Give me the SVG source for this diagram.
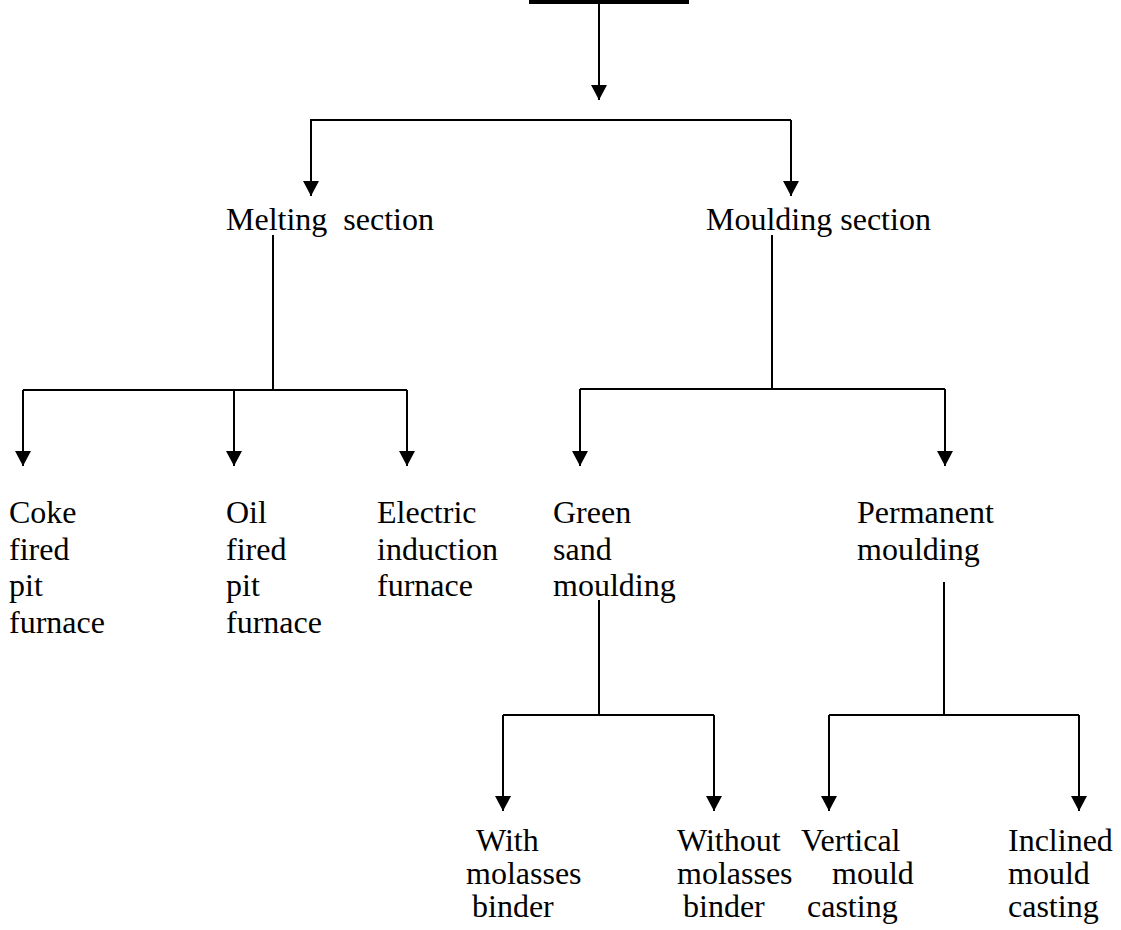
<svg xmlns="http://www.w3.org/2000/svg" width="1121" height="930" viewBox="0 0 1121 930">
  <style>
    text { font-family: "Liberation Serif", "Times New Roman", serif; font-size: 32px; fill: #000; }
    .ln { fill: none; stroke: #000; stroke-width: 2; }
    .arr { fill: none; stroke: #000; stroke-width: 2; marker-end: url(#head); }
  </style>
  <defs>
    <marker id="head" markerUnits="userSpaceOnUse" markerWidth="16" markerHeight="16" viewBox="0 0 16 16" refX="15" refY="8" orient="auto">
      <path d="M0,0 L15,8 L0,16 Z" fill="#000"/>
    </marker>
  </defs>

  <!-- root bar -->
  <g id="root">
    <rect x="529" y="0" width="160" height="4" fill="#000"/>
  </g>

  <!-- connectors -->
  <g id="connectors">
    <path class="arr" d="M599,4 V100"/>
    <path class="ln" d="M311,196 V120 H791"/>
    <path class="arr" d="M311,120 V196"/>
    <path class="arr" d="M791,120 V196"/>

    <!-- melting section branches -->
    <path class="ln" d="M273,235 V390 M23,390 H407"/>
    <path class="arr" d="M23,390 V466"/>
    <path class="arr" d="M234,390 V466"/>
    <path class="arr" d="M407,390 V466"/>

    <!-- moulding section branches -->
    <path class="ln" d="M772,235 V389 M580,389 H945"/>
    <path class="arr" d="M580,389 V466"/>
    <path class="arr" d="M945,389 V466"/>

    <!-- green sand moulding branches -->
    <path class="ln" d="M599,600 V715 M503,715 H714"/>
    <path class="arr" d="M503,715 V811"/>
    <path class="arr" d="M714,715 V811"/>

    <!-- permanent moulding branches -->
    <path class="ln" d="M944,582 V715 M829,715 H1079"/>
    <path class="arr" d="M829,715 V811"/>
    <path class="arr" d="M1079,715 V811"/>
  </g>

  <g id="melting">
    <text x="226" y="230" xml:space="preserve">Melting  section</text>
  </g>
  <g id="moulding">
    <text x="706" y="230">Moulding section</text>
  </g>

  <g id="coke">
    <text x="9" y="523">Coke</text>
    <text x="9" y="560">fired</text>
    <text x="9" y="596">pit</text>
    <text x="9" y="633">furnace</text>
  </g>
  <g id="oil">
    <text x="226" y="523">Oil</text>
    <text x="226" y="560">fired</text>
    <text x="226" y="596">pit</text>
    <text x="226" y="633">furnace</text>
  </g>
  <g id="electric">
    <text x="377" y="523">Electric</text>
    <text x="377" y="560">induction</text>
    <text x="377" y="596">furnace</text>
  </g>

  <g id="green-sand">
    <text x="553" y="523">Green</text>
    <text x="553" y="560">sand</text>
    <text x="553" y="596">moulding</text>
  </g>
  <g id="permanent">
    <text x="857" y="523">Permanent</text>
    <text x="857" y="560">moulding</text>
  </g>

  <g id="with-molasses">
    <text x="476" y="851">With</text>
    <text x="466" y="884">molasses</text>
    <text x="472" y="917">binder</text>
  </g>
  <g id="without-molasses">
    <text x="677" y="851">Without</text>
    <text x="677" y="884">molasses</text>
    <text x="683" y="917">binder</text>
  </g>
  <g id="vertical">
    <text x="801" y="851">Vertical</text>
    <text x="832" y="884">mould</text>
    <text x="807" y="917">casting</text>
  </g>
  <g id="inclined">
    <text x="1008" y="851">Inclined</text>
    <text x="1008" y="884">mould</text>
    <text x="1008" y="917">casting</text>
  </g>
</svg>
